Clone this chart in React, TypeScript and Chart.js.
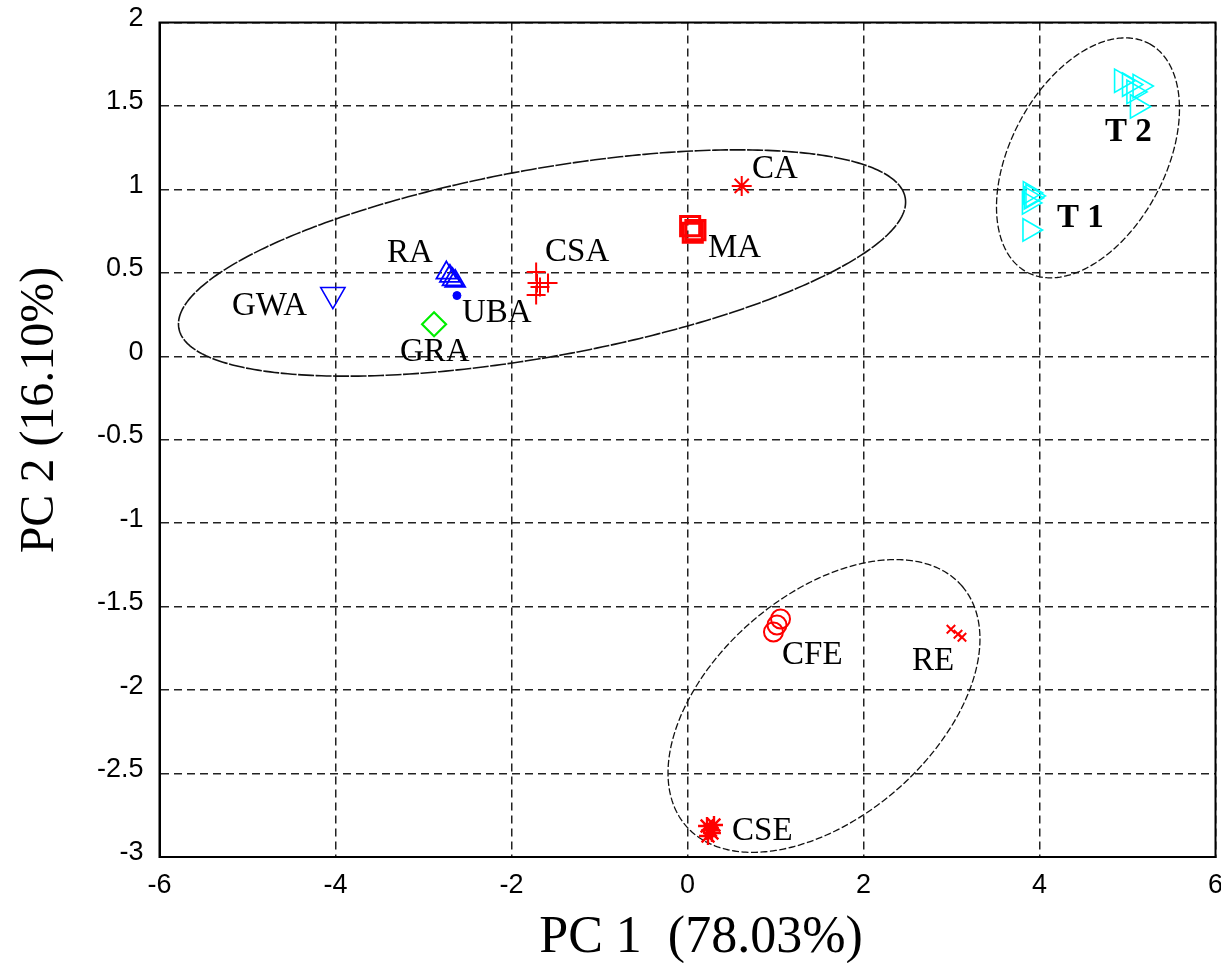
import React, { useEffect, useRef } from "react";
import { Chart, registerables } from "chart.js";

Chart.register(...registerables);

// ---- axis ranges / tick labels ----
const xMin = -6;
const xMax = 6;
const xStep = 2;
const yMin = -3;
const yMax = 2;
const yStep = 0.5;
const xTitle = "PC 1  (78.03%)";
const yTitle = "PC 2 (16.10%)";

// ---- series values (PC1, PC2 scores) ----
const gwaX = [-4.03];
const gwaY = [0.37];
const raX = [-2.74, -2.7, -2.67, -2.64];
const raY = [0.5, 0.48, 0.46, 0.45];
const ubaX = [-2.62];
const ubaY = [0.364];
const graX = [-2.88];
const graY = [0.192];
const csaX = [-1.72, -1.71, -1.585, -1.676, -1.72];
const csaY = [0.505, 0.439, 0.439, 0.415, 0.367];
const caX = [0.616];
const caY = [1.021];
const maX = [0.03, 0.09, 0.06];
const maY = [0.78, 0.756, 0.74];
const t1X = [3.89, 3.9, 3.88, 3.92, 3.886];
const t1Y = [0.979, 0.949, 0.919, 0.961, 0.757];
const t2X = [4.93, 5.02, 5.14, 5.07, 5.11];
const t2Y = [1.651, 1.628, 1.619, 1.584, 1.497];
const cfeX = [0.977, 1.057, 1.017];
const cfeY = [-1.652, -1.574, -1.61];
const reX = [2.994, 3.074, 3.119];
const reY = [-1.635, -1.665, -1.683];
const cseX = [0.222, 0.278, 0.233, 0.301, 0.26];
const cseY = [-2.814, -2.856, -2.874, -2.808, -2.84];

// ---- group labels (anchor in data units: left edge, vertical middle) ----
const labelText = ["GWA", "RA", "UBA", "GRA", "CSA", "CA", "MA", "T 2", "T 1", "CFE", "RE", "CSE"];
const labelX = [-5.176, -3.415, -2.563, -3.267, -1.619, 0.733, 0.233, 4.744, 4.199, 1.074, 2.551, 0.506];
const labelY = [0.301, 0.619, 0.259, 0.026, 0.625, 1.122, 0.649, 1.344, 0.823, -1.79, -1.826, -2.844];
const labelBold = [false, false, false, false, false, false, false, true, true, false, false, false];

// ---- confidence ellipses: centre and two conjugate semi-axis vectors (data units) ----
const ellipseCX = [-1.653, 4.551, 1.551];
const ellipseCY = [0.559, 1.189, -2.095];
const ellipseUX = [4.127, 0.693, 1.566];
const ellipseUY = [0.391, 0.685, 0.72];
const ellipseVX = [-0.189, 0.775, 0.83];
const ellipseVY = [0.554, -0.218, -0.501];

const zip = (xs: number[], ys: number[]) => xs.map((v, i) => ({ x: v, y: ys[i] }));

const ellipsePlugin = {
  id: "ellipses",
  beforeDatasetsDraw(chart: any) {
    const { ctx, scales } = chart;
    const sx = scales.x;
    const sy = scales.y;
    ctx.save();
    ctx.strokeStyle = "#111";
    for (let i = 0; i < ellipseCX.length; i++) {
      ctx.lineWidth = i === 0 ? 1.6 : 1.3;
      ctx.setLineDash(i === 0 ? [16, 1.5] : [7, 2.5]);
      ctx.beginPath();
      for (let k = 0; k <= 360; k++) {
        const t = (k * Math.PI) / 180;
        const dx = ellipseCX[i] + ellipseUX[i] * Math.cos(t) + ellipseVX[i] * Math.sin(t);
        const dy = ellipseCY[i] + ellipseUY[i] * Math.cos(t) + ellipseVY[i] * Math.sin(t);
        const px = sx.getPixelForValue(dx);
        const py = sy.getPixelForValue(dy);
        if (k === 0) ctx.moveTo(px, py);
        else ctx.lineTo(px, py);
      }
      ctx.closePath();
      ctx.stroke();
    }
    ctx.restore();
  },
};

const labelPlugin = {
  id: "groupLabels",
  afterDatasetsDraw(chart: any) {
    const { ctx, scales } = chart;
    ctx.save();
    ctx.fillStyle = "#000";
    ctx.textAlign = "left";
    ctx.textBaseline = "middle";
    for (let i = 0; i < labelText.length; i++) {
      ctx.font = `${labelBold[i] ? "bold " : ""}33px 'Liberation Serif', 'Times New Roman', serif`;
      ctx.fillText(labelText[i], scales.x.getPixelForValue(labelX[i]), scales.y.getPixelForValue(labelY[i]));
    }
    ctx.restore();
  },
};

const framePlugin = {
  id: "frameAndTitles",
  afterDraw(chart: any) {
    const { ctx, chartArea } = chart;
    ctx.save();
    ctx.strokeStyle = "#000";
    ctx.lineWidth = 2;
    ctx.setLineDash([]);
    ctx.strokeRect(chartArea.left, chartArea.top, chartArea.right - chartArea.left, chartArea.bottom - chartArea.top);
    ctx.fillStyle = "#000";
    ctx.textAlign = "center";
    ctx.textBaseline = "middle";
    ctx.font = "52px 'Liberation Serif', 'Times New Roman', serif";
    ctx.fillText(xTitle, 701, 938);
    ctx.font = "48px 'Liberation Serif', 'Times New Roman', serif";
    ctx.translate(40, 410);
    ctx.rotate(-Math.PI / 2);
    ctx.fillText(yTitle, 0, 0);
    ctx.restore();
  },
};

export default function App() {
  const ref = useRef<HTMLCanvasElement | null>(null);

  useEffect(() => {
    if (!ref.current) return;
    const mk = (
      label: string,
      xs: number[],
      ys: number[],
      style: string,
      color: string,
      radius: number,
      rotation = 0,
      width = 2,
      fill = "transparent"
    ) => ({
      label,
      data: zip(xs, ys),
      pointStyle: style,
      pointRotation: rotation,
      pointRadius: radius,
      pointBorderColor: color,
      pointBackgroundColor: fill,
      pointBorderWidth: width,
      showLine: false,
    });

    const tickFont = { family: "'Liberation Sans', Arial, sans-serif", size: 27 };

    const chart = new Chart(ref.current, {
      type: "scatter",
      data: {
        datasets: [
          mk("GWA", gwaX, gwaY, "triangle", "#0000ff", 14, 180, 1.6),
          mk("RA", raX, raY, "triangle", "#0000ff", 11.5, 0, 1.8),
          mk("UBA", ubaX, ubaY, "circle", "#0000ff", 4, 0, 1, "#0000ff"),
          mk("GRA", graX, graY, "rectRot", "#00ee00", 12, 0, 2.2),
          mk("CSA", csaX, csaY, "cross", "#ff0000", 9.5, 0, 2),
          mk("CA", caX, caY, "star", "#ff0000", 10, 0, 2),
          mk("MA", maX, maY, "rect", "#ff0000", 13.5, 0, 3),
          mk("T 1", t1X, t1Y, "triangle", "#00ffff", 13, 90, 1.6),
          mk("T 2", t2X, t2Y, "triangle", "#00ffff", 13.5, 90, 1.6),
          mk("CFE", cfeX, cfeY, "circle", "#ff0000", 9.5, 0, 2),
          mk("RE", reX, reY, "crossRot", "#ff0000", 6, 0, 2),
          mk("CSE", cseX, cseY, "star", "#ff0000", 9, 0, 2.4),
        ] as any,
      },
      options: {
        animation: false,
        responsive: false,
        devicePixelRatio: 1,
        layout: { autoPadding: false, padding: { top: 22.5, right: 5.5, left: 0, bottom: 0 } },
        plugins: { legend: { display: false }, tooltip: { enabled: false } },
        scales: {
          x: {
            type: "linear",
            min: xMin,
            max: xMax,
            ticks: {
              stepSize: xStep,
              color: "#000",
              padding: 12,
              font: tickFont,
              callback: (v: any) => `${v}`,
            },
            grid: { color: "#222", lineWidth: 1.5, drawTicks: false },
            border: { display: true, color: "#000", width: 2, dash: [8, 5] },
            afterFit: (s: any) => {
              s.height = 106;
              s.paddingLeft = 0;
              s.paddingRight = 0;
            },
          },
          y: {
            type: "linear",
            min: yMin,
            max: yMax,
            ticks: {
              stepSize: yStep,
              color: "#000",
              padding: 16,
              labelOffset: -4,
              font: tickFont,
              callback: (v: any) => `${v}`,
            },
            grid: { color: "#222", lineWidth: 1.5, drawTicks: false },
            border: { display: true, color: "#000", width: 2, dash: [8, 5] },
            afterFit: (s: any) => {
              s.width = 159.5;
              s.paddingTop = 0;
              s.paddingBottom = 0;
            },
          },
        },
      } as any,
      plugins: [ellipsePlugin, labelPlugin, framePlugin],
    });
    return () => chart.destroy();
  }, []);

  return (
    <div style={{ position: "absolute", left: 0, top: 0, width: 1221, height: 963, background: "#fff" }}>
      <canvas ref={ref} width={1221} height={963} style={{ display: "block" }} />
    </div>
  );
}
